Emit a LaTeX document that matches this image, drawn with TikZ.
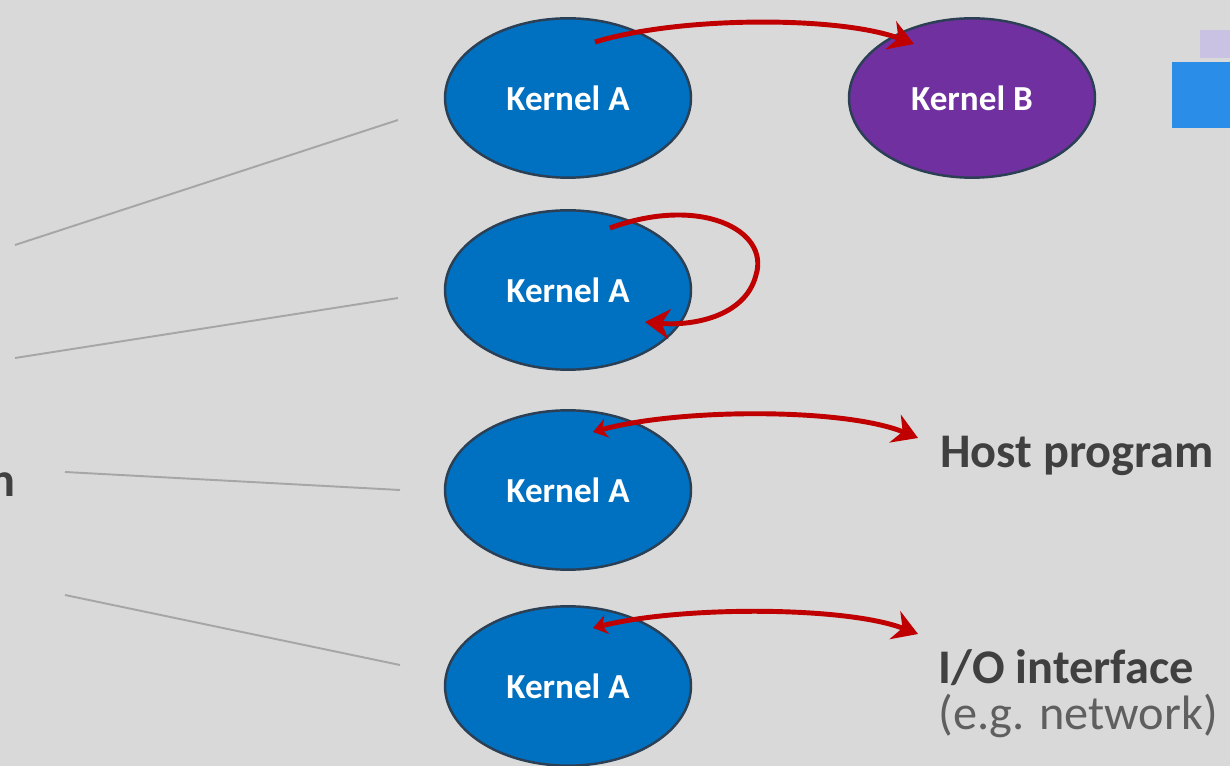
\documentclass[tikz,border=0pt]{standalone}
\usepackage{fontspec}
\setmainfont{Carlito}
\usetikzlibrary{shapes.geometric,arrows.meta}
\definecolor{bg}{HTML}{D9D9D9}
\definecolor{kblue}{HTML}{0070C0}
\definecolor{kpurple}{HTML}{7030A0}
\definecolor{kedge}{HTML}{2B3F55}
\definecolor{redarr}{HTML}{C00000}
\definecolor{txtdark}{HTML}{404040}
\definecolor{txtmid}{HTML}{5F5F5F}
\definecolor{glines}{HTML}{A6A6A6}
\definecolor{sqblue}{HTML}{2A8DE8}
\definecolor{sqlav}{HTML}{C9C2E2}
\tikzset{
  kernel/.style={ellipse, draw=kedge, line width=1.4pt, fill=kblue, minimum width=140pt, minimum height=90.7pt, inner sep=0pt, text=white, font=\fontsize{20}{24}\selectfont\bfseries},
  kernelB/.style={kernel, fill=kpurple},
  redflow/.style={draw=redarr, line width=2.8pt, -{Stealth[length=14pt,width=17pt]}},
  redboth/.style={draw=redarr, line width=2.8pt, {Stealth[length=8pt,width=11pt]}-{Stealth[length=14pt,width=17pt]}},
  grayline/.style={draw=glines, line width=1.1pt},
  label/.style={anchor=base west, inner sep=0pt, text=txtdark, font=\fontsize{27.5}{33}\selectfont\bfseries},
  sublabel/.style={anchor=base west, inner sep=0pt, text=txtmid, font=\fontsize{27.5}{33}\selectfont}
}
\begin{document}
\begin{tikzpicture}[x=0.02cm,y=-0.02cm]
\useasboundingbox (0,0) rectangle (1230,766);
\clip (0,0) rectangle (1230,766);
\fill[bg] (0,0) rectangle (1230,766);
% top-right partial shapes
\fill[sqlav] (1200,30) rectangle (1230,58);
\fill[sqblue] (1172,62) rectangle (1230,128);
% gray leader lines
\coordinate (g1a) at (15,245); \coordinate (g1b) at (398,120);
\coordinate (g2a) at (15,358); \coordinate (g2b) at (398,298);
\coordinate (g3a) at (65,472); \coordinate (g3b) at (400,490);
\coordinate (g4a) at (65,595); \coordinate (g4b) at (400,665);
\draw[grayline] (g1a) -- (g1b);
\draw[grayline] (g2a) -- (g2b);
\draw[grayline] (g3a) -- (g3b);
\draw[grayline] (g4a) -- (g4b);
% left cut-off text
\node[anchor=base east, inner sep=0pt, text=txtdark, font=\fontsize{27.5}{33}\selectfont\bfseries] (lefttxt) at (16,497) {n};
% kernels
\node[kernel] (kA1) at (568,98) {Kernel A};
\node[kernelB] (kB) at (972,98) {Kernel B};
\node[kernel] (kA2) at (568,290) {Kernel A};
\node[kernel] (kA3) at (568,490) {Kernel A};
\node[kernel] (kA4) at (568,686) {Kernel A};
% labels
\node[label] (host) at (940,467) {Host program};
\node[label] (io) at (938,683) {I/O interface};
\node[sublabel] (net) at (938,729) {(e.g. network)};
% arrow endpoints
\coordinate (a1s) at (595,42); \coordinate (a1e) at (914,44);
\coordinate (a2s) at (610,228); \coordinate (a2m) at (756,275); \coordinate (a2e) at (645,322);
\coordinate (a3s) at (593,432); \coordinate (a3e) at (918,438);
\coordinate (a4s) at (593,628); \coordinate (a4e) at (918,634);
% arrows
\draw[redflow] (a1s) .. controls (680,16) and (840,16) .. (a1e);
\draw[redflow] (a2s) .. controls (700,195) and (770,230) .. (a2m) .. controls (745,318) and (690,326) .. (a2e);
\draw[redboth] (a3s) .. controls (680,408) and (845,408) .. (a3e);
\draw[redboth] (a4s) .. controls (680,606) and (845,606) .. (a4e);
\end{tikzpicture}
\end{document}
